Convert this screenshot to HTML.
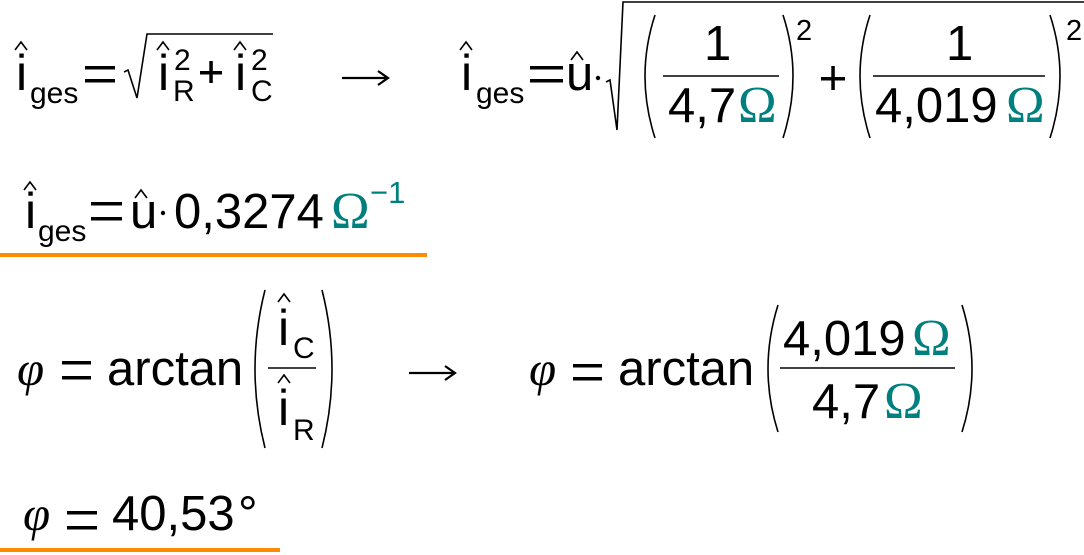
<!DOCTYPE html>
<html><head><meta charset="utf-8"><style>
html,body{margin:0;padding:0;background:#fff;}
svg{display:block}
text{font-family:"Liberation Sans",sans-serif;fill:#000}
.o{font-family:"Liberation Serif",serif;fill:#007f7f}
.p{font-family:"Liberation Serif",serif;font-style:italic}
</style></head><body>
<svg width="1084" height="555" viewBox="0 0 1084 555" xmlns="http://www.w3.org/2000/svg">
<g fill="none" stroke="#000" stroke-width="1.6">
<path d="M15 50 L21 42 L27 50"/>
<path d="M157 50 L163 42 L169 50"/>
<path d="M234 50 L240 42 L246 50"/>
<path d="M460 50 L466 42 L472 50"/>
<path d="M571 60 L577 52 L583 60"/>
<path d="M24 190 L30 182 L36 190"/>
<path d="M135 198 L141 190 L147 198"/>
<path d="M278 302 L284 294 L290 302"/>
<path d="M278 383 L284 375 L290 383"/>
<path d="M124 72 L128 70 L137 98 L147 34 L273 34"/>
<path d="M606 82 L610 80 L617 130 L623 2 L1084 2"/>
<path d="M655 15 Q635 76 655 138"/>
<path d="M783 15 Q803 76 783 138"/>
<path d="M870 15 Q850 76 870 138"/>
<path d="M1050 15 Q1070 76 1050 138"/>
<path d="M265 290 Q245 369 265 448"/>
<path d="M322 290 Q342 369 322 448"/>
<path d="M778 305 Q758 369 778 432"/>
<path d="M962 305 Q982 369 962 432"/>
<path d="M342 78 L387 78 M378 71 L388 78 L378 85" stroke-width="2.2"/>
<path d="M409 373 L454 373 M445 366 L455 373 L445 380" stroke-width="2.2"/>
</g>
<g stroke="#000" stroke-width="1.6">
<line x1="663" y1="76" x2="779" y2="76"/>
<line x1="873" y1="76" x2="1045" y2="76"/>
<line x1="268" y1="368" x2="316" y2="368"/>
<line x1="780" y1="368" x2="955" y2="368"/>
</g>
<g fill="#000">
<rect x="85" y="66" width="30" height="3.5"/><rect x="85" y="79" width="30" height="3.5"/>
<rect x="530" y="66" width="33" height="3.5"/><rect x="530" y="79" width="33" height="3.5"/>
<rect x="91" y="202" width="31" height="3.5"/><rect x="91" y="217" width="31" height="3.5"/>
<rect x="62" y="361" width="29" height="3.5"/><rect x="62" y="376" width="29" height="3.5"/>
<rect x="573" y="364" width="29" height="3.5"/><rect x="573" y="377" width="29" height="3.5"/>
<rect x="67" y="511" width="30" height="3.5"/><rect x="67" y="526" width="30" height="3.5"/>
<rect x="200" y="71" width="22" height="3.5"/><rect x="209.3" y="61" width="3.5" height="22"/>
<rect x="821" y="77" width="24" height="3.5"/><rect x="831.3" y="66" width="3.5" height="24"/>
<circle cx="598" cy="78" r="2.2"/>
<circle cx="163" cy="213" r="2.2"/>
</g>
<g font-size="50">
<text x="16" y="90">i</text>
<text x="158" y="90">i</text>
<text x="235" y="90">i</text>
<text x="461" y="90">i</text>
<text x="25" y="228">i</text>
<text x="278" y="345">i</text>
<text x="278" y="425">i</text>
</g>
<g font-size="30">
<text x="30" y="103">ges</text>
<text x="173" y="101">R</text>
<text x="251" y="101">C</text>
<text x="174" y="70">2</text>
<text x="251" y="70">2</text>
<text x="476" y="103">ges</text>
<text x="38" y="241">ges</text>
<text x="293" y="358">C</text>
<text x="293" y="440">R</text>
<text x="796" y="40" font-size="29">2</text>
<text x="1066" y="40" font-size="29">2</text>
</g>
<g font-size="49">
<text x="566" y="90">u</text>
<text x="704" y="60">1</text>
<text x="668" y="122">4,7</text>
<text x="738" y="122" class="o" font-size="52">Ω</text>
<text x="946" y="60">1</text>
<text x="875" y="122">4,019</text>
<text x="1006" y="122" class="o" font-size="52">Ω</text>
<text x="130" y="228">u</text>
<text x="174" y="228">0,3274</text>
<text x="331" y="228" class="o" font-size="52">Ω</text>
<text x="370" y="203" font-size="31" style="fill:#007f7f">−1</text>
<text x="17" y="385" class="p">φ</text>
<text x="107" y="385">arctan</text>
<text x="529" y="385" class="p">φ</text>
<text x="618" y="385">arctan</text>
<text x="783" y="355">4,019</text>
<text x="912" y="355" class="o" font-size="52">Ω</text>
<text x="812" y="418">4,7</text>
<text x="884" y="418" class="o" font-size="52">Ω</text>
<text x="23" y="530" class="p">φ</text>
<text x="112" y="530">40,53</text>
<text x="238" y="530">°</text>
</g>
<rect x="0" y="253" width="427" height="4" fill="#ff8c00"/>
<rect x="0" y="548" width="280" height="4" fill="#ff8c00"/>
</svg>
</body></html>
